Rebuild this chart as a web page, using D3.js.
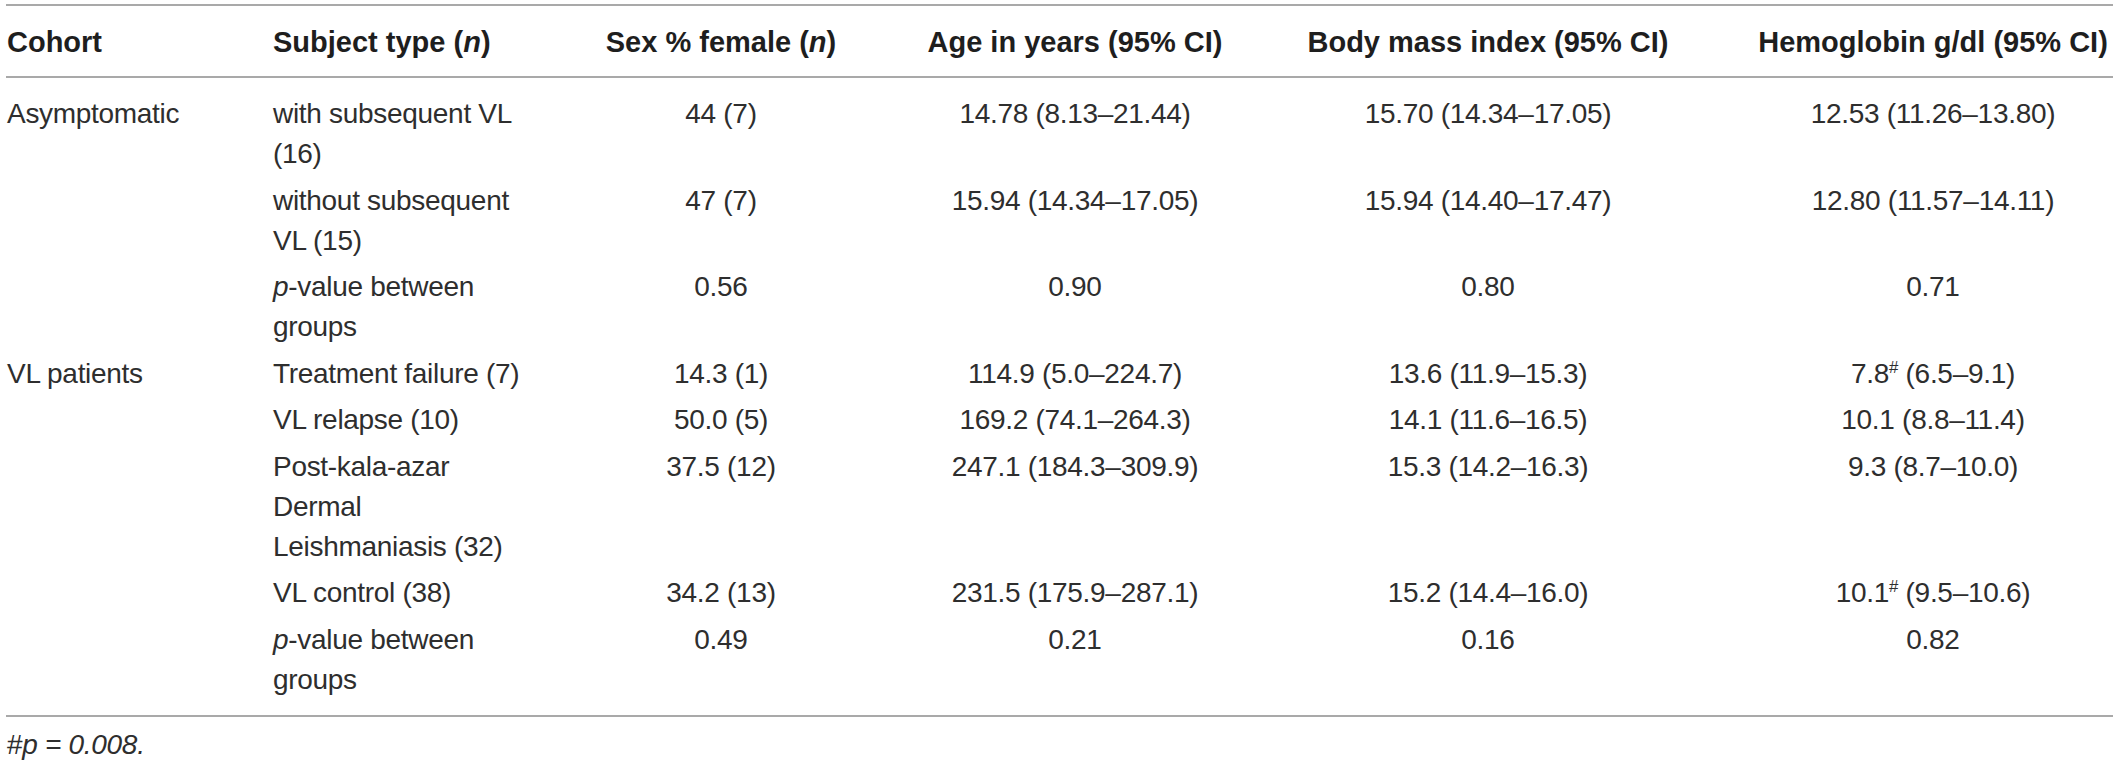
<!DOCTYPE html>
<html><head><meta charset="utf-8">
<script src="https://cdn.jsdelivr.net/npm/d3@7"></script>
<style>html,body{margin:0;padding:0;background:#fff}svg{display:block}</style>
</head><body>
<svg id="chart" width="2118" height="764"></svg>
<script>
// ---- data ----
const headers = ["Cohort", "Subject type (*n*)", "Sex % female (*n*)", "Age in years (95% CI)", "Body mass index (95% CI)", "Hemoglobin g/dl (95% CI)"];
const cohorts = ["Asymptomatic", "", "", "VL patients", "", "", "", ""];
const subjectTypes = [
  ["with subsequent VL", "(16)"],
  ["without subsequent", "VL (15)"],
  ["*p*-value between", "groups"],
  ["Treatment failure (7)"],
  ["VL relapse (10)"],
  ["Post-kala-azar", "Dermal", "Leishmaniasis (32)"],
  ["VL control (38)"],
  ["*p*-value between", "groups"]
];
const sexFemale = ["44 (7)", "47 (7)", "0.56", "14.3 (1)", "50.0 (5)", "37.5 (12)", "34.2 (13)", "0.49"];
const ageYears = ["14.78 (8.13–21.44)", "15.94 (14.34–17.05)", "0.90", "114.9 (5.0–224.7)", "169.2 (74.1–264.3)", "247.1 (184.3–309.9)", "231.5 (175.9–287.1)", "0.21"];
const bodyMassIndex = ["15.70 (14.34–17.05)", "15.94 (14.40–17.47)", "0.80", "13.6 (11.9–15.3)", "14.1 (11.6–16.5)", "15.3 (14.2–16.3)", "15.2 (14.4–16.0)", "0.16"];
const hemoglobin = ["12.53 (11.26–13.80)", "12.80 (11.57–14.11)", "0.71", "7.8^# (6.5–9.1)", "10.1 (8.8–11.4)", "9.3 (8.7–10.0)", "10.1^# (9.5–10.6)", "0.82"];
const footnote = "#*p = 0.008.*";

// ---- layout ----
const svg = d3.select("#chart");
const FONT = "'Liberation Sans', Arial, Helvetica, sans-serif";
const FS = 28, FSH = 29;
const textColor = "#2e2e2e";
const headColor = "#1e1e1e";
const ruleColor = "#a9a9a9";

const colKeys = ["cohort", "subject", "sex", "age", "bmi", "hgb"];
const xCol = d3.scaleOrdinal().domain(colKeys).range([7, 273, 721, 1075, 1488, 1933]);
const anchorCol = d3.scaleOrdinal().domain(colKeys).range(["start", "start", "middle", "middle", "middle", "middle"]);

const firstBaseline = 123, lineStep = 40, rowGap = 46.5;
const yLine = d3.scaleLinear().domain([0, 1]).range([firstBaseline, firstBaseline + lineStep]);

const rowStart = [];
let acc = 0;
subjectTypes.forEach(lines => { rowStart.push(acc); acc += lines.length; });
const yOf = (row, k) => yLine(rowStart[row] + k) + row * (rowGap - lineStep);

function rich(sel, str, fs) {
  const parts = str.split(/(\*[^*]+\*|\^#)/).filter(s => s.length);
  let shifted = false;
  parts.forEach(p => {
    if (p === "^#") {
      sel.append("tspan").attr("dy", -10).attr("font-size", fs * 0.6).text("#");
      shifted = true;
    } else {
      const t = sel.append("tspan");
      if (shifted) { t.attr("dy", 10); shifted = false; }
      if (p.startsWith("*")) t.attr("font-style", "italic").text(p.slice(1, -1));
      else t.text(p);
    }
  });
}

function cell(col, y, str, bold) {
  const fs = bold ? FSH : FS;
  const t = svg.append("text")
    .attr("x", xCol(col)).attr("y", y)
    .attr("text-anchor", anchorCol(col))
    .attr("font-family", FONT).attr("font-size", fs)
    .attr("font-weight", bold ? "bold" : "normal")
    .attr("letter-spacing", bold ? "0px" : "-0.3px")
    .attr("fill", bold ? headColor : textColor);
  rich(t, str, fs);
}

// rules
const headerBaseline = 52;
const rules = [5, 77, 716];
svg.selectAll("line.rule").data(rules).enter().append("line")
  .attr("class", "rule")
  .attr("x1", 6).attr("x2", 2113)
  .attr("y1", d => d).attr("y2", d => d)
  .attr("stroke", ruleColor).attr("stroke-width", 2);

// header
headers.forEach((h, i) => cell(colKeys[i], headerBaseline, h, true));

// body
subjectTypes.forEach((lines, r) => {
  if (cohorts[r]) cell("cohort", yOf(r, 0), cohorts[r]);
  lines.forEach((ln, k) => cell("subject", yOf(r, k), ln));
  cell("sex", yOf(r, 0), sexFemale[r]);
  cell("age", yOf(r, 0), ageYears[r]);
  cell("bmi", yOf(r, 0), bodyMassIndex[r]);
  cell("hgb", yOf(r, 0), hemoglobin[r]);
});

// footnote
cell("cohort", 754, footnote);
</script>
</body></html>
